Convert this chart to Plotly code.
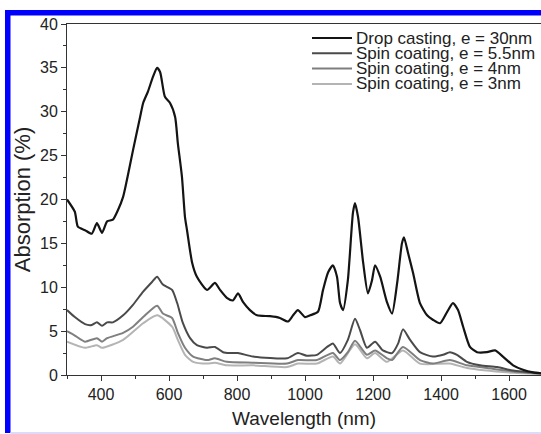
import plotly.graph_objects as go

# ---------------- data ----------------
wl_drop = [300, 323, 332, 353, 373, 388, 403, 418, 435, 450, 465, 476, 494, 515, 524, 538, 553, 565,
           574, 588, 603, 618, 626, 638, 647, 653, 668, 682, 712, 735, 750, 770, 788, 803, 818, 838,
           859, 897, 926, 950, 965, 979, 1000, 1015, 1038, 1053, 1068, 1082, 1094, 1103, 1112, 1126,
           1141, 1147, 1156, 1171, 1185, 1197, 1206, 1221, 1241, 1256, 1271, 1285, 1291, 1303, 1318,
           1338, 1359, 1376, 1397, 1418, 1435, 1450, 1465, 1485, 1506, 1535, 1559, 1582, 1612, 1641,
           1671, 1694]
ab_drop = [20.0, 18.6, 16.9, 16.5, 16.1, 17.3, 16.2, 17.5, 17.7, 18.8, 20.3, 22.2, 25.6, 29.4, 31.0,
           32.3, 34.0, 35.0, 34.5, 31.7, 31.0, 29.4, 26.4, 22.6, 18.0, 16.5, 12.8, 11.2, 9.7, 10.5, 9.7,
           8.8, 8.5, 9.3, 8.3, 7.4, 6.8, 6.7, 6.5, 6.1, 6.8, 7.4, 6.6, 6.8, 7.2, 9.7, 11.7, 12.5, 11.2,
           8.2, 7.4, 10.8, 18.5, 19.6, 18.0, 12.8, 9.3, 10.8, 12.5, 11.2, 8.3, 7.0, 10.5, 15.0, 15.7,
           13.9, 11.6, 8.2, 6.8, 6.3, 5.9, 7.2, 8.2, 7.4, 5.5, 3.2, 2.6, 2.6, 2.8, 2.1, 1.1, 0.6, 0.3,
           0.2]

wl_s55 = [300, 323, 353, 373, 388, 403, 418, 435, 465, 494, 524, 550, 565, 582, 609, 624, 641, 662,
          682, 712, 735, 759, 779, 803, 847, 947, 979, 1005, 1035, 1065, 1082, 1103, 1126, 1147, 1162,
          1182, 1206, 1229, 1256, 1274, 1288, 1309, 1338, 1376, 1406, 1426, 1447, 1476, 1515, 1565,
          1612, 1694]
ab_s55 = [7.4, 6.6, 5.8, 5.7, 6.0, 5.6, 6.0, 6.0, 6.8, 8.0, 9.5, 10.6, 11.2, 10.3, 9.7, 8.2, 5.9, 4.2,
          3.4, 3.1, 3.2, 2.6, 2.5, 2.5, 2.1, 1.9, 2.5, 2.2, 2.3, 3.2, 3.6, 2.5, 4.0, 6.4, 5.1, 3.1, 3.8,
          2.8, 2.5, 3.6, 5.2, 4.0, 2.6, 2.1, 2.3, 2.6, 2.3, 1.5, 1.1, 0.9, 0.5, 0.2]

wl_s4 = [300, 323, 353, 388, 403, 418, 465, 494, 524, 565, 582, 609, 626, 647, 671, 712, 735, 770,
         847, 947, 979, 1035, 1082, 1103, 1126, 1147, 1182, 1206, 1241, 1256, 1288, 1338, 1376, 1426,
         1476, 1535, 1612, 1694]
ab_s4 = [5.0, 4.5, 3.8, 4.2, 3.8, 4.2, 4.8, 5.5, 6.6, 7.9, 7.0, 6.5, 4.8, 3.1, 2.1, 1.7, 1.9, 1.5,
         1.4, 1.3, 1.7, 1.7, 2.5, 1.7, 2.6, 3.9, 2.3, 2.8, 1.9, 1.7, 3.2, 1.7, 1.3, 1.7, 1.1, 0.8, 0.4,
         0.15]

wl_s3 = [300, 353, 388, 403, 465, 524, 565, 609, 626, 647, 671, 712, 735, 770, 847, 947, 979, 1035,
         1082, 1103, 1147, 1182, 1206, 1241, 1288, 1338, 1426, 1476, 1612, 1694]
ab_s3 = [3.8, 3.1, 3.4, 3.1, 4.0, 5.9, 6.8, 5.5, 4.0, 2.3, 1.5, 1.3, 1.4, 1.1, 1.1, 0.9, 1.3, 1.3,
         2.1, 1.3, 3.5, 1.9, 2.5, 1.5, 2.8, 1.3, 1.3, 0.8, 0.25, 0.1]

names = ["Drop casting, e = 30nm", "Spin coating, e = 5.5nm",
         "Spin coating, e = 4nm", "Spin coating, e = 3nm"]
x_ticks = [400, 600, 800, 1000, 1200, 1400, 1600]
y_ticks = [0, 5, 10, 15, 20, 25, 30, 35, 40]

# ---------------- styling ----------------
W, H = 541, 434
ML, MR, MT, MB = 67, 0, 24, 59
PW, PH = W - ML - MR, H - MT - MB
colors = ["#141414", "#4a4a4a", "#7f7f7f", "#b4b4b4"]
FONT = "Liberation Sans, Arial, sans-serif"


def px(xp):
    return (xp - ML) / PW


def py(yp):
    return (H - MB - yp) / PH


fig = go.Figure()
series = [(wl_drop, ab_drop), (wl_s55, ab_s55), (wl_s4, ab_s4), (wl_s3, ab_s3)]
# draw light ones first so the darker lines sit on top
for i in [3, 2, 1, 0]:
    xs, ys = series[i]
    fig.add_trace(go.Scatter(x=xs, y=ys, mode="lines", name=names[i],
                             line=dict(color=colors[i], width=2.2 if i == 0 else 2,
                                       shape="spline", smoothing=0.6),
                             showlegend=False))

shapes = []
annotations = []
# compact legend (as in the reference)
leg_rows = [38, 53.3, 68.6, 84]
for i, yr in enumerate(leg_rows):
    shapes.append(dict(type="line", xref="paper", yref="paper",
                       x0=px(312), x1=px(352), y0=py(yr), y1=py(yr),
                       line=dict(color=colors[i], width=2)))
    annotations.append(dict(xref="paper", yref="paper", x=px(355), y=py(yr),
                            xanchor="left", yanchor="middle", showarrow=False, borderpad=0,
                            text=names[i], font=dict(family=FONT, size=17, color="#222")))

# blue frame around the figure
blue = "#0000ff"
shapes.append(dict(type="rect", xref="paper", yref="paper", layer="above",
                   x0=px(5), x1=px(10.5), y0=py(433), y1=py(10), fillcolor=blue, line_width=0))
shapes.append(dict(type="rect", xref="paper", yref="paper", layer="above",
                   x0=px(5), x1=px(541), y0=py(15.5), y1=py(10), fillcolor=blue, line_width=0))
shapes.append(dict(type="rect", xref="paper", yref="paper", layer="above",
                   x0=px(10.5), x1=px(541), y0=py(434), y1=py(432), fillcolor="#dcdcfa", line_width=0))

fig.update_layout(
    width=W, height=H,
    margin=dict(l=ML, r=MR, t=MT, b=MB, pad=0),
    paper_bgcolor="white", plot_bgcolor="white",
    font=dict(family=FONT, size=16, color="#222"),
    shapes=shapes, annotations=annotations,
    showlegend=False,
)
fig.update_xaxes(range=[300, 1694], tickvals=x_ticks, ticks="outside", ticklen=5, tickwidth=1,
                 tickcolor="#333", showline=True, linecolor="#333", linewidth=1, mirror=True,
                 showgrid=False, zeroline=False,
                 minor=dict(dtick=100, tick0=0, ticks="outside", ticklen=3, tickcolor="#333"),
                 title=dict(text="Wavelength (nm)", font=dict(size=19), standoff=9),
                 tickfont=dict(size=16))
fig.update_yaxes(range=[0, 40], tickvals=y_ticks, ticks="outside", ticklen=5, tickwidth=1,
                 tickcolor="#333", showline=True, linecolor="#333", linewidth=1, mirror=False,
                 showgrid=False, zeroline=False,
                 minor=dict(dtick=2.5, tick0=0, ticks="outside", ticklen=3, tickcolor="#333"),
                 title=dict(text="Absorption (%)", font=dict(size=22), standoff=3),
                 tickfont=dict(size=16))

fig.write_html("out.html", config={"displayModeBar": False},
               post_script="document.body.style.margin='0';")
